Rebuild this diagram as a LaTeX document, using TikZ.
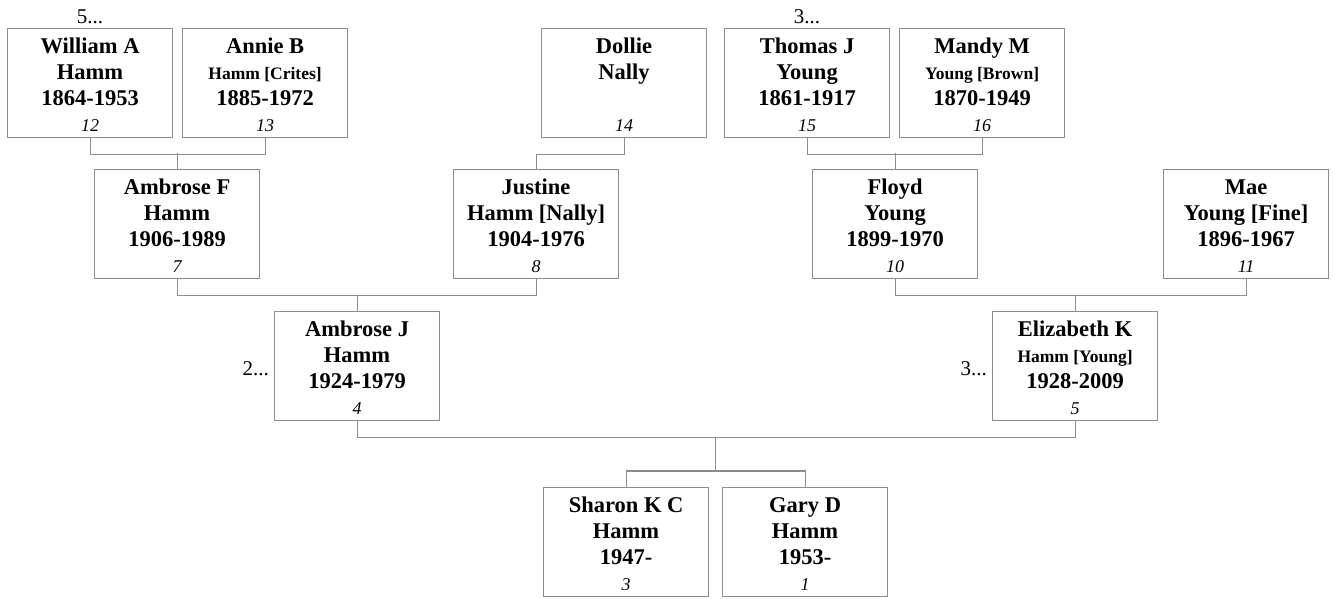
\documentclass[tikz,border=0pt]{standalone}
\usepackage{fontspec}
\setmainfont{Liberation Serif}
\definecolor{linec}{RGB}{140,140,140}
\newcommand\smname{\fontsize{17.5}{20}\selectfont}
\newcommand\pperson[7]{%
  \node[pb] (#1) at (#2,#3) {};
  \node[bigtxt] (#1a) at ([yshift=-25pt]#1.north) {#4};
  \node[bigtxt] (#1b) at ([yshift=-51pt]#1.north) {#5};
  \node[bigtxt] (#1c) at ([yshift=-77pt]#1.north) {#6};
  \node[numtxt] (#1d) at ([yshift=-103pt]#1.north) {#7};
}
\begin{document}
\begin{tikzpicture}[x=1pt,y=-1pt,
  pb/.style={draw=linec, line width=1.2pt, minimum width=165pt, minimum height=109pt, inner sep=0pt, anchor=north west, fill=white},
  bigtxt/.style={font=\fontsize{22.5}{26}\selectfont\bfseries, inner sep=0pt, anchor=base},
  numtxt/.style={font=\fontsize{18}{20}\selectfont\itshape, inner sep=0pt, anchor=base},
  moretxt/.style={font=\fontsize{21}{24}\selectfont, inner sep=0pt},
  conn/.style={draw=linec, line width=1.2pt}]
\useasboundingbox (0,0) rectangle (1333,598);
% boxes
\pperson{p12}{7}{28}{William A}{Hamm}{1864-1953}{12}
\pperson{p13}{182}{28}{Annie B}{\smname Hamm [Crites]}{1885-1972}{13}
\pperson{p14}{541}{28}{Dollie}{Nally}{}{14}
\pperson{p15}{724}{28}{Thomas J}{Young}{1861-1917}{15}
\pperson{p16}{899}{28}{Mandy M}{\smname Young [Brown]}{1870-1949}{16}
\pperson{p7}{94}{169}{Ambrose F}{Hamm}{1906-1989}{7}
\pperson{p8}{453}{169}{Justine}{Hamm [Nally]}{1904-1976}{8}
\pperson{p10}{812}{169}{Floyd}{Young}{1899-1970}{10}
\pperson{p11}{1163}{169}{Mae}{Young [Fine]}{1896-1967}{11}
\pperson{p4}{274}{311}{Ambrose J}{Hamm}{1924-1979}{4}
\pperson{p5}{992}{311}{Elizabeth K}{\smname Hamm [Young]}{1928-2009}{5}
\pperson{p3}{543}{487}{Sharon K C}{Hamm}{1947-}{3}
\pperson{p1}{722}{487}{Gary D}{Hamm}{1953-}{1}
% more markers
\node[moretxt, anchor=base] (m12) at ([yshift=5pt]p12.north) {5...};
\node[moretxt, anchor=base] (m15) at ([yshift=5pt]p15.north) {3...};
\node[moretxt, anchor=base east] (m4) at ([xshift=-5pt,yshift=-9.5pt]p4.west) {2...};
\node[moretxt, anchor=base east] (m5) at ([xshift=-5pt,yshift=-9.5pt]p5.west) {3...};
% connectors
\draw[conn] (p12.south) -- ++(0,16) -| (p13.south);
\draw[conn] (p7.north) -- ++(0,-16);
\draw[conn] (p14.south) -- ++(0,16) -| (p8.north);
\draw[conn] (p15.south) -- ++(0,16) -| (p16.south);
\draw[conn] (p10.north) -- ++(0,-16);
\draw[conn] (p7.south) -- ++(0,16.5) -| (p8.south);
\draw[conn] (p4.north) -- ++(0,-16.5);
\draw[conn] (p10.south) -- ++(0,16.5) -| (p11.south);
\draw[conn] (p5.north) -- ++(0,-16.5);
\draw[conn] (p4.south) -- ++(0,16) coordinate (pbar) -| (p5.south);
\path (p3.north) -- (p1.north) coordinate[pos=0.5] (cmid);
\coordinate (ctop) at ([yshift=16pt]cmid);
\draw[conn] (p3.north) -- ++(0,-16) -| (p1.north);
\draw[conn] (ctop) -- (ctop |- pbar);
\end{tikzpicture}
\end{document}
